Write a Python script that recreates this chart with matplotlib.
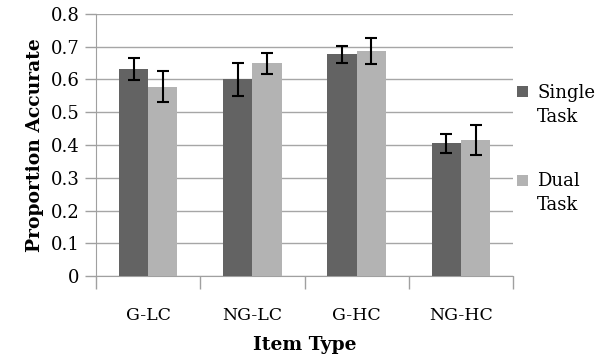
import numpy as np
import matplotlib
matplotlib.use("Agg")
import matplotlib.pyplot as plt
from matplotlib.patches import Rectangle
from matplotlib.container import BarContainer
from matplotlib.legend_handler import HandlerPatch, update_from_first_child

categories = ["G-LC", "NG-LC", "G-HC", "NG-HC"]
single = [0.632, 0.600, 0.677, 0.406]
single_err = [0.034, 0.050, 0.026, 0.029]
dual = [0.578, 0.649, 0.688, 0.416]
dual_err = [0.047, 0.033, 0.040, 0.046]

plt.rcParams["font.family"] = ["DejaVu Serif"]

fig = plt.figure(figsize=(6.05, 3.54), dpi=100)
ax = fig.add_axes([0.1587, 0.2203, 0.6893, 0.7402])

x = np.arange(len(categories))
w = 0.28
err_kw = dict(ecolor="black", elinewidth=1.5, capsize=4.5, capthick=1.5)
ax.bar(x - w / 2, single, w, yerr=single_err, color="#636363", label="Single\nTask",
       error_kw=err_kw, zorder=3)
ax.bar(x + w / 2, dual, w, yerr=dual_err, color="#b3b3b3", label="Dual\nTask",
       error_kw=err_kw, zorder=3)

ax.set_xlim(-0.5, 3.5)
ax.set_ylim(0, 0.8)
ax.set_yticks(np.arange(0, 0.81, 0.1))
ax.set_yticklabels(["0"] + [f"{v:.1f}" for v in np.arange(0.1, 0.81, 0.1)])
ax.set_xticks(x)
ax.set_xticklabels(categories)
ax.set_xticks(np.arange(-0.5, 3.6, 1), minor=True)
ax.tick_params(axis="x", which="major", length=0, pad=22, labelsize=12.5)
ax.tick_params(axis="x", which="minor", length=9, color="#a0a0a0", width=1)
ax.tick_params(axis="y", length=8, color="#a0a0a0", width=1, labelsize=13, pad=4)

ax.grid(axis="y", color="#a6a6a6", linewidth=1, zorder=0)
for side in ["top", "right"]:
    ax.spines[side].set_visible(False)
for side in ["left", "bottom"]:
    ax.spines[side].set_color("#a0a0a0")

ax.set_xlabel("Item Type", fontsize=13.5, fontweight="bold", labelpad=9)
ax.set_ylabel("Proportion Accurate", fontsize=13.5, fontweight="bold", labelpad=5)


def top_square(legend, orig_handle, xdescent, ydescent, width, height, fontsize):
    s = width
    return Rectangle((-xdescent, -ydescent + height / 2 - s / 2 + 0.75 * fontsize), s, s)


leg = ax.legend(loc="center left", bbox_to_anchor=(0.993, 0.485), frameon=False, fontsize=13,
                handlelength=0.6, handleheight=0.6, handletextpad=0.5, labelspacing=2.55,
                borderaxespad=0,
                handler_map={BarContainer: HandlerPatch(patch_func=top_square,
                                                        update_func=update_from_first_child)})
for t in leg.get_texts():
    t.set_linespacing(1.45)

fig.savefig("out.png", dpi=100)
